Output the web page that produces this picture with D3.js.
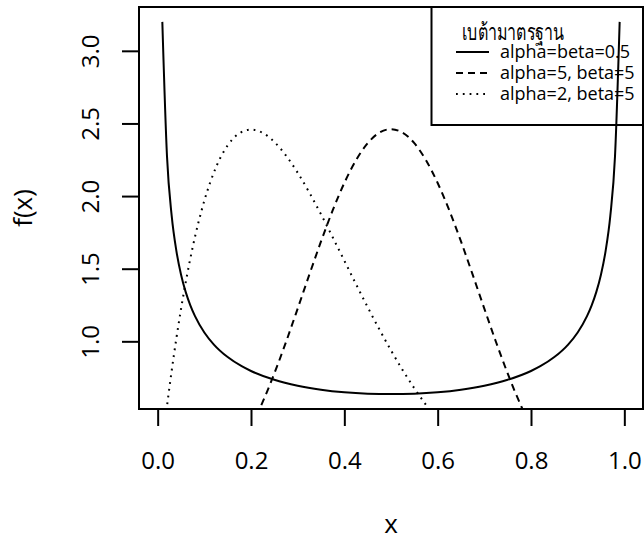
<!DOCTYPE html>
<html>
<head>
<meta charset="utf-8">
<script src="https://cdn.jsdelivr.net/npm/d3@7/dist/d3.min.js"></script>
<style>
  html, body { margin: 0; padding: 0; background: #fff; }
  svg { display: block; }
  text { font-family: "Open Sans", "Noto Sans", sans-serif; fill: #000; }
</style>
</head>
<body>
<svg id="chart" width="644" height="540"></svg>
<script>
// Beta densities sampled on [0, 1]
const xArcsine = [0.01, 0.02, 0.03, 0.04, 0.05, 0.06, 0.07, 0.08, 0.10, 0.12, 0.15, 0.18, 0.20, 0.25, 0.30, 0.35, 0.40, 0.45, 0.50,
                  0.55, 0.60, 0.65, 0.70, 0.75, 0.80, 0.82, 0.85, 0.88, 0.90, 0.92, 0.93, 0.94, 0.95, 0.96, 0.97, 0.98, 0.99];
const yArcsine = [3.1992, 2.2736, 1.8660, 1.6244, 1.4605, 1.3403, 1.2476, 1.1733, 1.0610, 0.9795, 0.8915, 0.8285, 0.7958, 0.7351, 0.6946, 0.6674, 0.6497, 0.6398, 0.6366,
                  0.6398, 0.6497, 0.6674, 0.6946, 0.7351, 0.7958, 0.8285, 0.8915, 0.9795, 1.0610, 1.1733, 1.2476, 1.3403, 1.4605, 1.6244, 1.8660, 2.2736, 3.1992];

const xBeta55 = [0.20, 0.21, 0.22, 0.25, 0.275, 0.30, 0.325, 0.35, 0.375, 0.40, 0.425, 0.45, 0.475, 0.50,
                 0.525, 0.55, 0.575, 0.60, 0.625, 0.65, 0.675, 0.70, 0.725, 0.75, 0.78, 0.79, 0.80];
const yBeta55 = [0.4129, 0.4772, 0.5463, 0.7787, 0.9954, 1.2252, 1.4591, 1.6876, 1.9010, 2.0902, 2.2468, 2.3639, 2.4364, 2.4609,
                 2.4364, 2.3639, 2.2468, 2.0902, 1.9010, 1.6876, 1.4591, 1.2252, 0.9954, 0.7787, 0.5463, 0.4772, 0.4129];

const xBeta25 = [0.01, 0.02, 0.03, 0.05, 0.075, 0.10, 0.125, 0.15, 0.175, 0.20, 0.225, 0.25, 0.275, 0.30, 0.325, 0.35, 0.375,
                 0.40, 0.425, 0.45, 0.475, 0.50, 0.525, 0.55, 0.575, 0.58, 0.59, 0.60];
const yBeta25 = [0.2882, 0.5534, 0.7968, 1.2218, 1.6472, 1.9683, 2.1982, 2.3490, 2.4321, 2.4576, 2.4351, 2.3730, 2.2792, 2.1609, 2.0240, 1.8743, 1.7166,
                 1.5552, 1.3937, 1.2353, 1.0826, 0.9375, 0.8018, 0.6766, 0.5628, 0.5414, 0.5002, 0.4608];

const xTicks = [0, 0.2, 0.4, 0.6, 0.8, 1.0];
const yTicks = [1.0, 1.5, 2.0, 2.5, 3.0];

const legendTitle = "เบต้ามาตรฐาน";
const legendLabels = ["alpha=beta=0.5", "alpha=5, beta=5", "alpha=2, beta=5"];
const legendDash = [null, "7,5", "1.8,5"];

const svg = d3.select("#chart");
const plot = { left: 139, right: 643, top: 7, bottom: 409 };

// axis limits padded by 4% each side
const pad = (lo, hi) => { const d = (hi - lo) * 0.04; return [lo - d, hi + d]; };
const x = d3.scaleLinear().domain(pad(0, 1)).range([plot.left, plot.right]);
const yExt = d3.extent(yArcsine);
const y = d3.scaleLinear().domain(pad(yExt[0], yExt[1])).range([plot.bottom, plot.top]);

svg.append("defs").append("clipPath").attr("id", "plotclip")
  .append("rect")
  .attr("x", plot.left).attr("y", plot.top)
  .attr("width", plot.right - plot.left).attr("height", plot.bottom - plot.top);

const line = d3.line().x(d => x(d[0])).y(d => y(d[1])).curve(d3.curveMonotoneX);
const series = [
  { xs: xArcsine, ys: yArcsine, dash: legendDash[0] },
  { xs: xBeta55, ys: yBeta55, dash: legendDash[1] },
  { xs: xBeta25, ys: yBeta25, dash: legendDash[2] }
];

const curves = svg.append("g").attr("clip-path", "url(#plotclip)");
series.forEach(s => {
  curves.append("path")
    .datum(d3.zip(s.xs, s.ys))
    .attr("d", line)
    .attr("fill", "none")
    .attr("stroke", "#000")
    .attr("stroke-width", 2)
    .attr("stroke-dasharray", s.dash);
});

// x axis
const xAxis = svg.append("g")
  .attr("transform", `translate(0,${plot.bottom})`)
  .call(d3.axisBottom(x).tickValues(xTicks).tickFormat(d3.format(".1f")).tickSize(17).tickPadding(26));
xAxis.select(".domain").remove();
xAxis.selectAll(".tick line").attr("stroke", "#000").attr("stroke-width", 2);
xAxis.selectAll(".tick text").attr("font-size", 24).attr("font-family", "Open Sans, sans-serif");

// y axis
const yAxis = svg.append("g")
  .attr("transform", `translate(${plot.left},0)`)
  .call(d3.axisLeft(y).tickValues(yTicks).tickFormat(d3.format(".1f")).tickSize(17));
yAxis.select(".domain").remove();
yAxis.selectAll(".tick line").attr("stroke", "#000").attr("stroke-width", 2);
yAxis.selectAll(".tick text")
  .attr("font-size", 24)
  .attr("font-family", "Open Sans, sans-serif")
  .attr("x", null).attr("dy", null)
  .attr("text-anchor", "middle")
  .attr("transform", "translate(-40,0) rotate(-90)");

// plot frame
svg.append("rect")
  .attr("x", plot.left).attr("y", plot.top)
  .attr("width", plot.right - plot.left).attr("height", plot.bottom - plot.top)
  .attr("fill", "none").attr("stroke", "#000").attr("stroke-width", 2);

// axis titles
svg.append("text")
  .attr("x", (plot.left + plot.right) / 2).attr("y", 533)
  .attr("text-anchor", "middle").attr("font-size", 26)
  .text("x");
svg.append("text")
  .attr("transform", `translate(32,${(plot.top + plot.bottom) / 2}) rotate(-90)`)
  .attr("text-anchor", "middle").attr("font-size", 26)
  .text("f(x)");

// legend
const lg = svg.append("g");
lg.append("rect")
  .attr("x", 431.5).attr("y", plot.top)
  .attr("width", plot.right - 431.5).attr("height", 118)
  .attr("fill", "none").attr("stroke", "#000").attr("stroke-width", 2);
lg.append("text")
  .attr("x", 513).attr("y", 40)
  .attr("text-anchor", "middle").attr("font-size", 23)
  .attr("textLength", 103).attr("lengthAdjust", "spacingAndGlyphs")
  .text(legendTitle);
legendLabels.forEach((lab, i) => {
  const yy = 52 + i * 21;
  lg.append("line")
    .attr("x1", 456).attr("x2", 489).attr("y1", yy).attr("y2", yy)
    .attr("stroke", "#000").attr("stroke-width", 2)
    .attr("stroke-dasharray", legendDash[i]);
  lg.append("text")
    .attr("x", 500).attr("y", yy).attr("dy", "0.35em")
    .attr("font-size", 18)
    .text(lab);
});
</script>
</body>
</html>
